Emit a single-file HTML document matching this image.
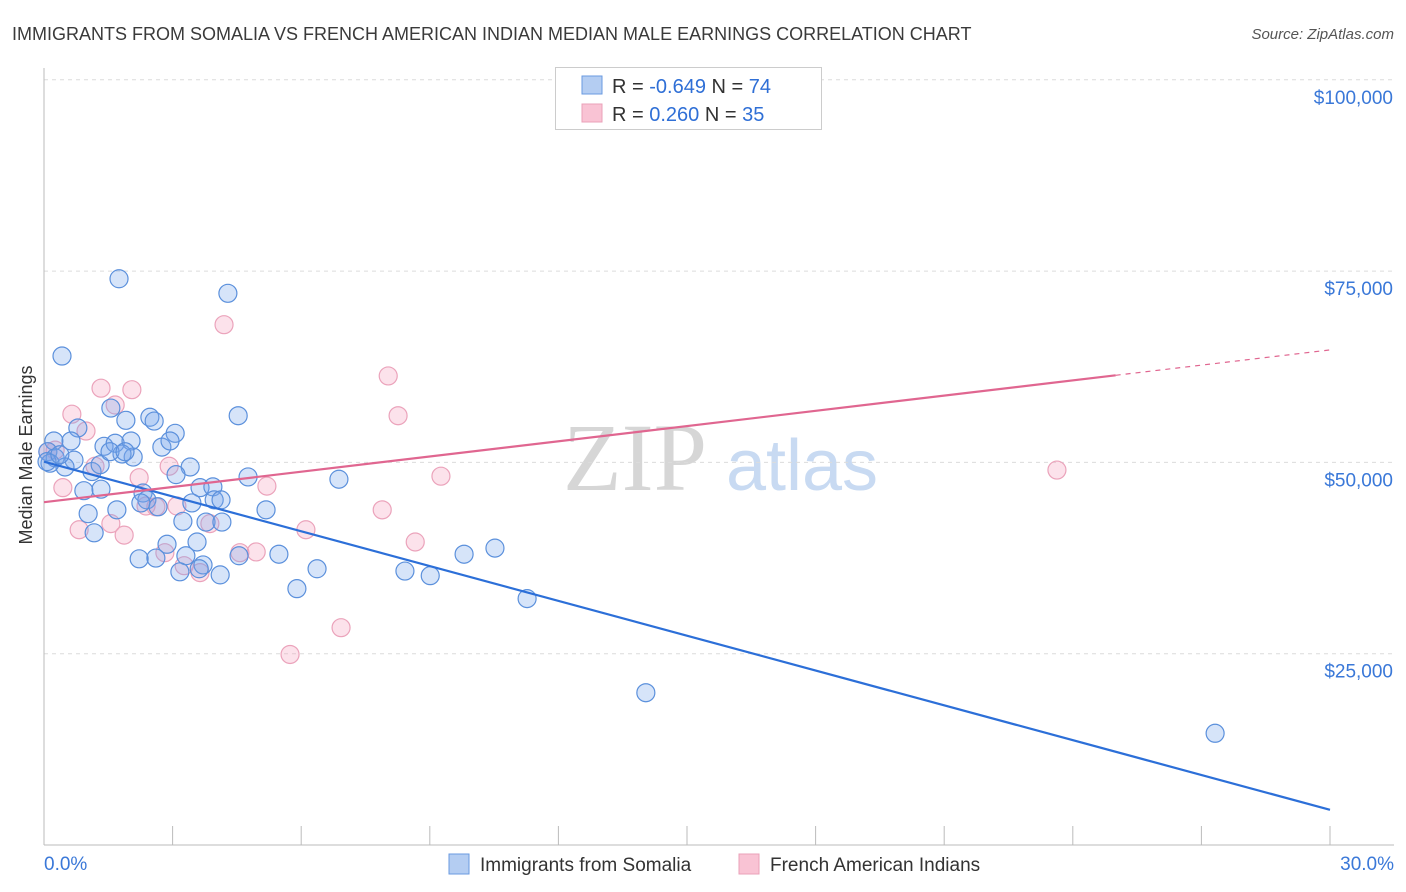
<!DOCTYPE html>
<html><head><meta charset="utf-8">
<style>
body{margin:0;background:#fff;font-family:"Liberation Sans",sans-serif;}
#wrap{position:relative;width:1406px;height:892px;overflow:hidden;}
</style></head>
<body><div id="wrap">
<svg id="chart" width="1406" height="892" xmlns="http://www.w3.org/2000/svg">
<text x="12" y="40" font-size="18" fill="#3a3a3a">IMMIGRANTS FROM SOMALIA VS FRENCH AMERICAN INDIAN MEDIAN MALE EARNINGS CORRELATION CHART</text>
<text x="1394" y="39" font-size="15" fill="#555" text-anchor="end" font-style="italic">Source: ZipAtlas.com</text>
<text x="32" y="455" font-size="18" fill="#333" text-anchor="middle" transform="rotate(-90 32 455)">Median Male Earnings</text>
<g>
<text x="635" y="490" font-size="96" fill="#d6d6d6" font-family="Liberation Serif,serif" text-anchor="middle">ZIP</text>
<text x="802" y="490" font-size="72" fill="#c8daf2" text-anchor="middle">atlas</text>
</g>
<g id="grid"></g><g id="axes"></g><g id="marks"></g>
<g>
<rect x="555.5" y="67.5" width="266" height="62" fill="#fff" stroke="#ccc"/>
<rect x="582" y="76" width="20" height="18" fill="#b4cdf2" stroke="#6a9ae0"/>
<rect x="582" y="104" width="20" height="18" fill="#f9c3d4" stroke="#eaa0b8"/>
<text x="612" y="93" font-size="20" fill="#333">R = <tspan fill="#2f6fd6">-0.649</tspan>   N = <tspan fill="#2f6fd6">74</tspan></text>
<text x="612" y="121" font-size="20" fill="#333">R =  <tspan fill="#2f6fd6"> 0.260</tspan>   N = <tspan fill="#2f6fd6">35</tspan></text>
</g>
<g>
<rect x="449" y="854" width="20" height="20" fill="#b4cdf2" stroke="#6a9ae0"/>
<text x="480" y="871" font-size="19" fill="#333">Immigrants from Somalia</text>
<rect x="739" y="854" width="20" height="20" fill="#f9c3d4" stroke="#eaa0b8"/>
<text x="770" y="871" font-size="19" fill="#333">French American Indians</text>
</g>
</svg>
<script>
const yTicks=[25000,50000,75000,100000];
const yTickLabels=["$25,000","$50,000","$75,000","$100,000"];
const xTickLabels=["0.0%","30.0%"];
const blueX=[1.75,4.29,0.42,4.53,1.56,1.91,2.47,2.57,0.79,0.63,0.23,1.40,1.66,2.03,2.08,1.82,2.75,3.06,2.94,3.41,3.08,4.76,6.88,0.09,0.26,0.70,0.49,1.12,1.31,0.14,0.93,1.33,2.31,2.40,2.66,2.26,3.64,3.94,3.97,4.13,3.45,5.18,1.70,1.03,3.24,3.78,4.15,1.17,2.87,3.57,3.31,2.22,2.61,5.48,4.55,3.17,3.71,3.62,4.11,6.37,8.42,9.01,9.80,10.52,5.90,11.27,14.04,27.32,0.07,0.37,1.54,1.89];
const blueY=[74.0,72.1,63.9,56.1,57.1,55.5,55.9,55.4,54.5,52.8,52.8,52.1,52.5,52.8,50.7,51.1,52.0,53.8,52.8,49.4,48.4,48.1,47.8,51.4,50.6,50.3,49.4,48.8,49.7,49.9,46.3,46.5,46.0,45.1,44.2,44.7,46.7,46.8,45.1,45.1,44.7,43.8,43.8,43.3,42.3,42.2,42.2,40.8,39.3,39.6,37.8,37.4,37.5,38.0,37.8,35.7,36.6,36.1,35.3,36.1,35.8,35.2,38.0,38.8,33.5,32.2,19.9,14.6,50.1,51.0,51.4,51.4];
const pinkX=[17.87,4.20,1.33,2.05,8.03,0.65,1.66,8.26,0.98,0.26,1.19,2.92,2.22,5.20,9.26,23.63,0.44,3.10,2.38,2.61,3.87,6.11,1.56,0.82,1.87,7.89,8.66,2.82,4.57,4.95,3.27,3.64,6.93,5.74,0.09];
const pinkY=[95.4,68.0,59.7,59.5,61.3,56.3,57.5,56.1,54.1,51.6,49.5,49.5,48.0,46.9,48.2,49.0,46.7,44.3,44.3,44.2,42.0,41.2,42.0,41.2,40.5,43.8,39.6,38.2,38.2,38.3,36.5,35.6,28.4,24.9,51.4];
const blueTrend=[50.1,4.6];
const pinkTrend=[44.8,64.7];
const pinkSolidEnd=25.0;

const NS="http://www.w3.org/2000/svg";
const X0=44,X1=1330,Y0=845,PPK=191.3/25;
const sx=v=>X0+(v/30)*(X1-X0);
const sy=v=>Y0-v*PPK;
function mk(tag,attrs,parent){const e=document.createElementNS(NS,tag);for(const k in attrs)e.setAttribute(k,attrs[k]);parent.appendChild(e);return e;}
const grid=document.getElementById('grid'),axes=document.getElementById('axes'),marks=document.getElementById('marks');
yTicks.forEach((t,i)=>{
  const y=sy(t/1000);
  const l=mk('line',{x1:X0,x2:1394,y1:y,y2:y,stroke:'#dcdcdc','stroke-dasharray':'4,4'},grid);
  
  
  const tx=mk('text',{x:1393,y:y+24,'font-size':19,fill:'#3a78d8','text-anchor':'end'},axes);
  tx.textContent=yTickLabels[i];
  
  
});
const ax=mk('line',{x1:X0,x2:X0,y1:68,y2:Y0,stroke:'#bbb'},axes);


const bx=mk('line',{x1:X0,x2:1394,y1:Y0,y2:Y0,stroke:'#bbb'},axes);


for(let i=0;i<=10;i++){
  const x=sx(i*3);
  const t=mk('line',{x1:x,x2:x,y1:826,y2:Y0,stroke:'#bbb'},axes);
  
  
}
[[0,'start',44],[30,'end',1394]].forEach((d,i)=>{
  const t=mk('text',{x:d[2],y:870,'font-size':19,fill:'#3a78d8','text-anchor':d[1]},axes);
  t.textContent=xTickLabels[i];
  
  
});
pinkX.forEach((x,i)=>{
  const c=mk('circle',{cx:sx(x),cy:sy(pinkY[i]),r:9,fill:'rgba(244,160,188,0.3)',stroke:'#eba3bb','stroke-width':1.2},marks);
  
  
});
blueX.forEach((x,i)=>{
  const c=mk('circle',{cx:sx(x),cy:sy(blueY[i]),r:9,fill:'rgba(120,165,235,0.3)',stroke:'#5b90dc','stroke-width':1.2},marks);
  
  
});
const pv=x=>pinkTrend[0]+(pinkTrend[1]-pinkTrend[0])*x/30;
const bl=mk('line',{x1:sx(0),y1:sy(blueTrend[0]),x2:sx(30),y2:sy(blueTrend[1]),stroke:'#2c6fd8','stroke-width':2.2},marks);


const pl=mk('line',{x1:sx(0),y1:sy(pv(0)),x2:sx(pinkSolidEnd),y2:sy(pv(pinkSolidEnd)),stroke:'#e06690','stroke-width':2.2},marks);


const pd=mk('line',{x1:sx(pinkSolidEnd),y1:sy(pv(pinkSolidEnd)),x2:sx(30),y2:sy(pv(30)),stroke:'#e06690','stroke-width':1.2,'stroke-dasharray':'5,5'},marks);


</script>
</div></body></html>
